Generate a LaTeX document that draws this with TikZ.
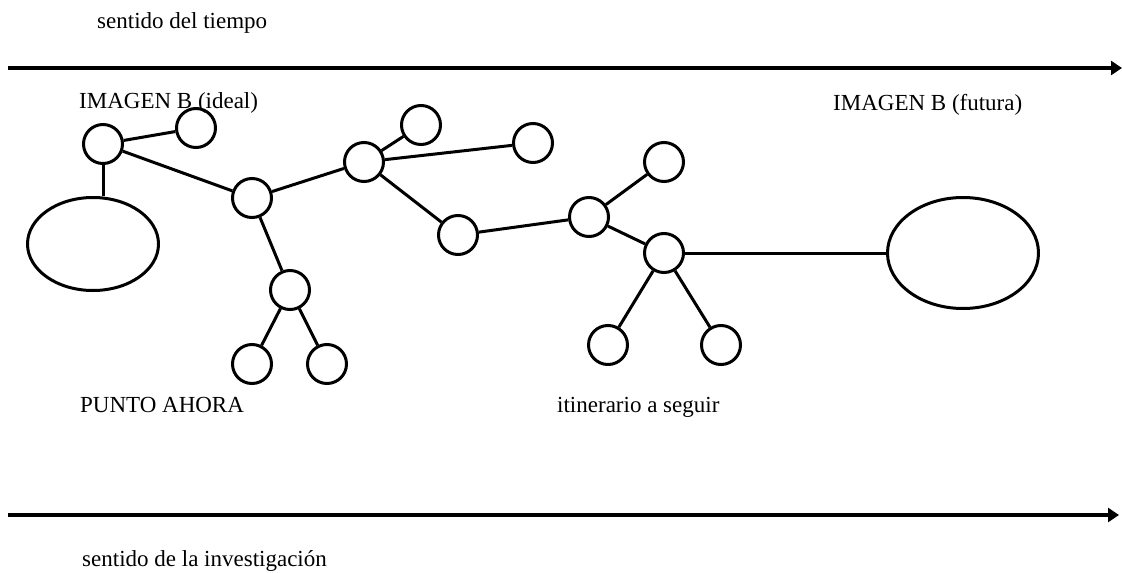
\documentclass[tikz,border=0pt]{standalone}
\usepackage{fontspec}
\setmainfont{Liberation Serif}
\usetikzlibrary{shapes.geometric,arrows.meta}
\begin{document}
\begin{tikzpicture}[x=1pt,y=-1pt,
  every node/.style={font=\fontsize{23}{27}\selectfont},
  dot/.style={circle,draw,line width=3pt,minimum size=39pt,inner sep=0pt},
  oval/.style={ellipse,draw,line width=3pt,inner sep=0pt},
  link/.style={line width=3pt},
  axis/.style={line width=3.2pt,-{Triangle[length=11pt,width=14pt]}},
  lbl/.style={anchor=base west,inner sep=0pt}]
\useasboundingbox (0,0) rectangle (1122,573);

% time and research axes
\coordinate (t0) at (8,68);
\coordinate (t1) at (1122,68);
\coordinate (r0) at (8,515);
\coordinate (r1) at (1119,515);
\draw[axis] (t0) -- (t1);
\draw[axis] (r0) -- (r1);

% labels
\node[lbl] (ltime) at (97,28) {sentido del tiempo};
\node[lbl] (lideal) at (79,108) {IMAGEN B (ideal)};
\node[lbl] (lfut) at (833,110) {IMAGEN B (futura)};
\node[lbl] (lnow) at (80,412) {PUNTO AHORA};
\node[lbl] (lroute) at (557,412) {itinerario a seguir};
\node[lbl] (lres) at (82,566) {sentido de la investigación};

% states
\node[oval,minimum width=131pt,minimum height=93pt] (now) at (93,244) {};
\node[oval,minimum width=151pt,minimum height=111pt] (future) at (963,253) {};

% path nodes
\node[dot] (a) at (103,144) {};
\node[dot] (b) at (196,128) {};
\node[dot] (c) at (252,198) {};
\node[dot] (d) at (364,162) {};
\node[dot] (e) at (290,290) {};
\node[dot] (e1) at (252,364) {};
\node[dot] (e2) at (327,364) {};
\node[dot] (f) at (421,125) {};
\node[dot] (g) at (533,143) {};
\node[dot] (h) at (458,235) {};
\node[dot] (i) at (589,217) {};
\node[dot] (j) at (664,162) {};
\node[dot] (k) at (664,253) {};
\node[dot] (k1) at (608,345) {};
\node[dot] (k2) at (721,345) {};

% connections
\draw[link] (a.south) -- (a.south |- now.north);
\draw[link] (a) -- (b);
\draw[link] (a) -- (c);
\draw[link] (c) -- (d);
\draw[link] (c) -- (e);
\draw[link] (e) -- (e1);
\draw[link] (e) -- (e2);
\draw[link] (d) -- (f);
\draw[link] (d) -- (g);
\draw[link] (d) -- (h);
\draw[link] (h) -- (i);
\draw[link] (i) -- (j);
\draw[link] (i) -- (k);
\draw[link] (k) -- (k1);
\draw[link] (k) -- (k2);
\draw[link] (k.east) -- (future.west);
\end{tikzpicture}
\end{document}
